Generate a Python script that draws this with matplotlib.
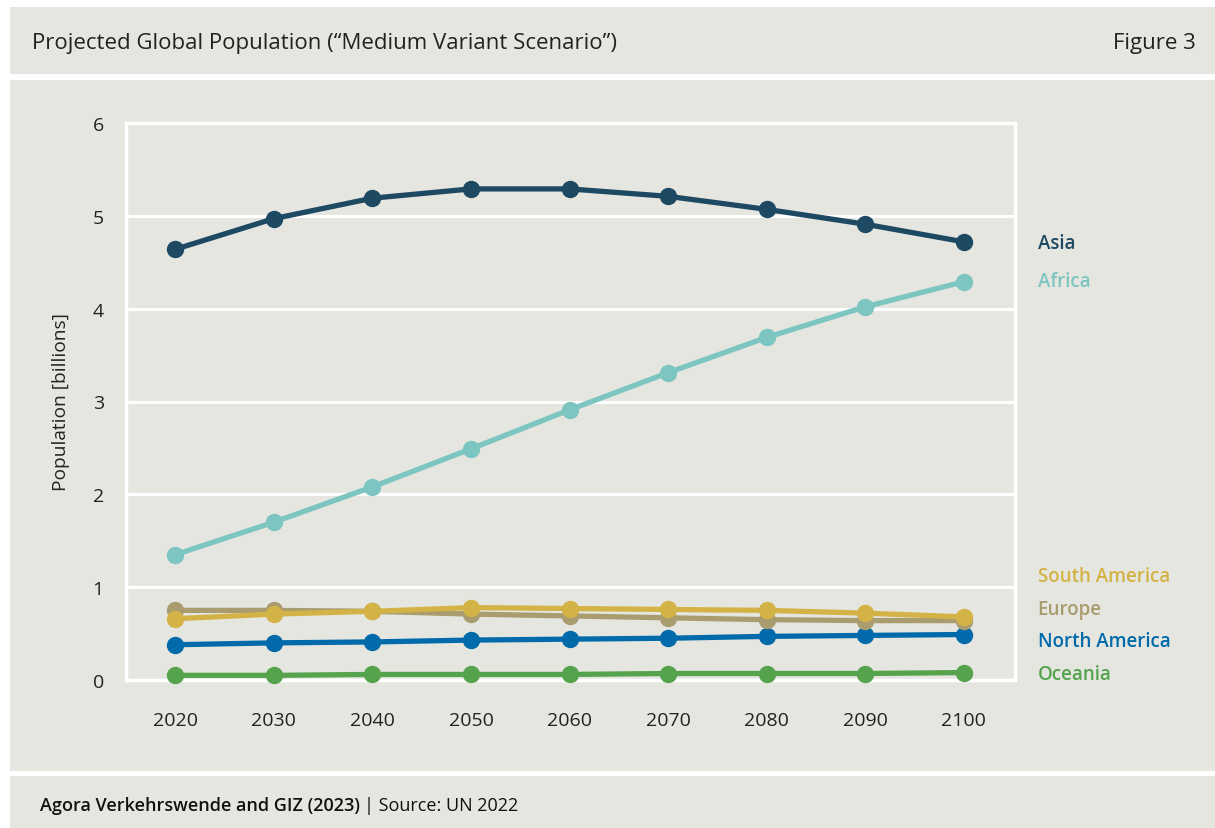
import numpy as np
import matplotlib
matplotlib.use('Agg')
import matplotlib.pyplot as plt
from matplotlib.patches import Rectangle

plt.rcParams['font.family'] = ['Open Sans', 'DejaVu Sans']

# data (billions)
years = [2020, 2030, 2040, 2050, 2060, 2070, 2080, 2090, 2100]
asia = [4.64, 4.97, 5.19, 5.29, 5.29, 5.21, 5.07, 4.91, 4.72]
africa = [1.35, 1.70, 2.08, 2.49, 2.91, 3.31, 3.69, 4.02, 4.29]
south_america = [0.66, 0.71, 0.74, 0.78, 0.77, 0.76, 0.75, 0.72, 0.68]
europe = [0.75, 0.75, 0.74, 0.71, 0.69, 0.67, 0.65, 0.64, 0.64]
north_america = [0.38, 0.40, 0.41, 0.43, 0.44, 0.45, 0.47, 0.48, 0.49]
oceania = [0.05, 0.05, 0.06, 0.06, 0.06, 0.07, 0.07, 0.07, 0.08]

series_names = ['Oceania', 'North America', 'Europe', 'South America', 'Africa', 'Asia']
series_vals = [oceania, north_america, europe, south_america, africa, asia]
series_cols = ['#56a34e', '#006aab', '#a99c6e', '#d4b346', '#7cc5c0', '#1e4962']
# where the end labels sit (data units), spread out at the bottom
label_y = [0.06, 0.42, 0.77, 1.12, 4.30, 4.71]

bg = '#e6e6e1'
fig = plt.figure(figsize=(12.15, 8.29), dpi=100, facecolor='white')
W, H = 1215, 829

def box(x0, y0, x1, y1):
    fig.patches.append(Rectangle((x0 / W, 1 - y1 / H), (x1 - x0) / W, (y1 - y0) / H,
                                 transform=fig.transFigure, facecolor=bg,
                                 edgecolor='none', zorder=-5))

box(10, 8, 1215, 75)
box(10, 81, 1215, 772)
box(10, 777, 1215, 829)

fig.text(32 / W, 1 - 43 / H, 'Projected Global Population (\u201cMedium Variant Scenario\u201d)',
         fontsize=16, color='#222222', va='center', ha='left')
fig.text(1196 / W, 1 - 43 / H, 'Figure 3', fontsize=16,
         color='#222222', va='center', ha='right')
src_bold = fig.text(40 / W, 1 - 806 / H, 'Agora Verkehrswende and GIZ (2023)', fontsize=13,
                    fontweight='semibold', color='#111111', va='center', ha='left')
r = fig.canvas.get_renderer()
bb = src_bold.get_window_extent(renderer=r)
fig.text(bb.x1 / W + 4 / W, 1 - 806 / H, '| Source: UN 2022', fontsize=13,
         color='#111111', va='center', ha='left')

ax = fig.add_axes([126 / W, 1 - 681 / H, (1015 - 126) / W, (681 - 124) / H])
ax.set_facecolor(bg)
ax.set_xlim(2015.0, 2105.2)
ax.set_ylim(0, 6)
ax.set_yticks(range(0, 7))
ax.set_xticks(years)
ax.grid(axis='y', color='white', lw=2.2, zorder=0)
ax.set_axisbelow(True)
for s in ['top', 'right', 'bottom', 'left']:
    ax.spines[s].set_color('white')
    ax.spines[s].set_linewidth(2.5)
ax.tick_params(length=0, labelsize=14, labelcolor='#222222')
ax.tick_params(axis='x', pad=22)
ax.tick_params(axis='y', pad=16)
ax.set_ylabel('Population [billions]', fontsize=13.8,
              color='#222222', labelpad=16)

for name, vals, col, ly in zip(series_names, series_vals, series_cols, label_y):
    ax.plot(years, vals, color=col, lw=3.8, marker='o', ms=11.5,
            solid_capstyle='round', zorder=3, clip_on=False)
    ax.text(2107.5, ly, name, color=col, fontsize=13.5, fontweight='semibold',
            va='center', ha='left', clip_on=False)

fig.savefig('out.png', dpi=100, facecolor='white')
